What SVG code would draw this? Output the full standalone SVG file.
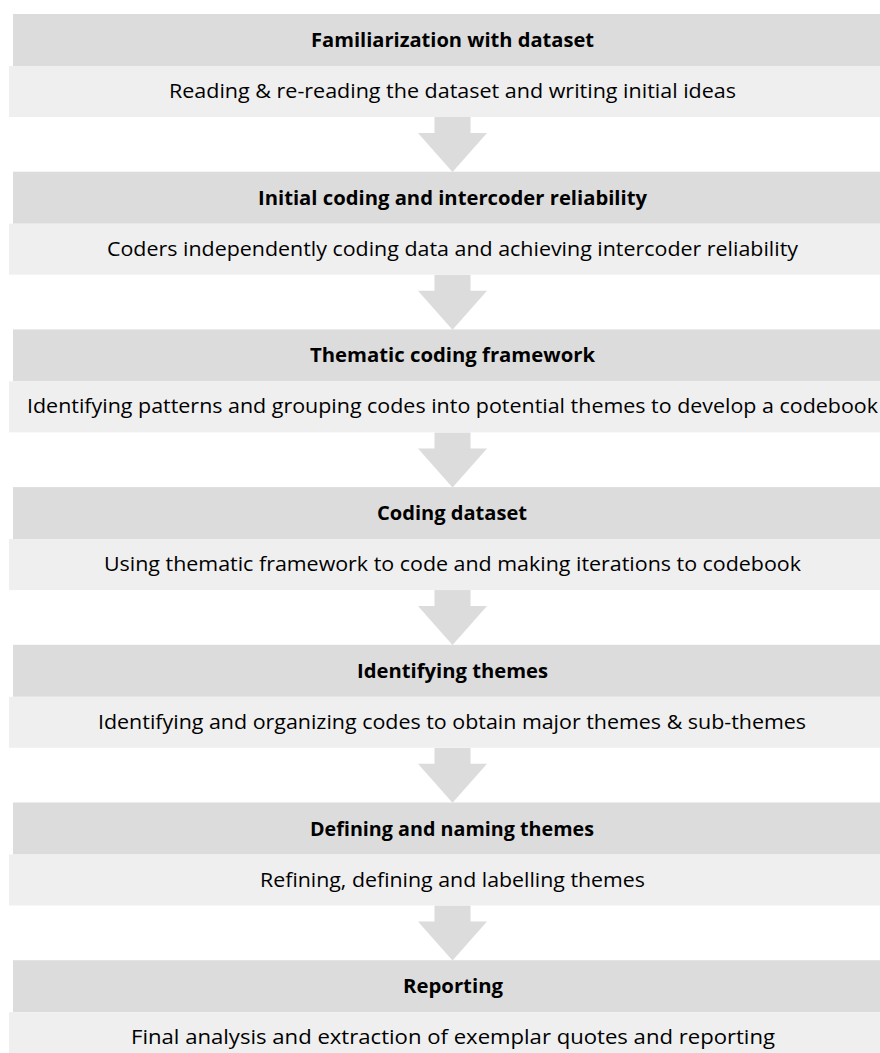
<svg xmlns="http://www.w3.org/2000/svg" width="880" height="1053" viewBox="0 0 880 1053">
  <style>
    .hd { fill: #dcdcdc; }
    .sb { fill: #efefef; }
    .ar { fill: #dcdcdc; }
    text { font-family: "Open Sans", "Liberation Sans", sans-serif; font-size: 19.5px; fill: #000; text-anchor: middle; }
    .t { font-weight: 700; }
  </style>
  <defs>
    <!-- block arrow from the bottom of one step to the top of the next -->
    <polygon id="down" class="ar" points="434.5,0 470.5,0 470.5,16 487,16 452.5,55 418,16 434.5,16"/>
  </defs>
  <rect width="880" height="1053" fill="#fff"/>

  <g id="connectors">
    <use href="#down" y="117"/>
    <use href="#down" y="274.7"/>
    <use href="#down" y="432.4"/>
    <use href="#down" y="590.1"/>
    <use href="#down" y="747.8"/>
    <use href="#down" y="905.5"/>
  </g>

  <g id="step1">
    <rect class="hd" x="13" y="14" width="880" height="52"/>
    <rect class="sb" x="9" y="66" width="880" height="51"/>
    <text class="t" x="452.5" y="47" textLength="283" lengthAdjust="spacingAndGlyphs">Familiarization with dataset</text>
    <text x="452.5" y="98" textLength="567" lengthAdjust="spacingAndGlyphs">Reading &amp; re-reading the dataset and writing initial ideas</text>
  </g>

  <g id="step2">
    <rect class="hd" x="13" y="171.7" width="880" height="52"/>
    <rect class="sb" x="9" y="223.7" width="880" height="51"/>
    <text class="t" x="452.5" y="204.7" textLength="389" lengthAdjust="spacingAndGlyphs">Initial coding and intercoder reliability</text>
    <text x="452.5" y="255.7" textLength="691" lengthAdjust="spacingAndGlyphs">Coders independently coding data and achieving intercoder reliability</text>
  </g>

  <g id="step3">
    <rect class="hd" x="13" y="329.4" width="880" height="52"/>
    <rect class="sb" x="9" y="381.4" width="880" height="51"/>
    <text class="t" x="452.5" y="362.4" textLength="285" lengthAdjust="spacingAndGlyphs">Thematic coding framework</text>
    <text x="452.5" y="413.4" textLength="851" lengthAdjust="spacingAndGlyphs">Identifying patterns and grouping codes into potential themes to develop a codebook</text>
  </g>

  <g id="step4">
    <rect class="hd" x="13" y="487.1" width="880" height="52"/>
    <rect class="sb" x="9" y="539.1" width="880" height="51"/>
    <text class="t" x="452" y="520.1" textLength="150" lengthAdjust="spacingAndGlyphs">Coding dataset</text>
    <text x="452.5" y="571.1" textLength="697" lengthAdjust="spacingAndGlyphs">Using thematic framework to code and making iterations to codebook</text>
  </g>

  <g id="step5">
    <rect class="hd" x="13" y="644.8" width="880" height="52"/>
    <rect class="sb" x="9" y="696.8" width="880" height="51"/>
    <text class="t" x="452.5" y="677.8" textLength="191" lengthAdjust="spacingAndGlyphs">Identifying themes</text>
    <text x="452" y="728.8" textLength="708" lengthAdjust="spacingAndGlyphs">Identifying and organizing codes to obtain major themes &amp; sub-themes</text>
  </g>

  <g id="step6">
    <rect class="hd" x="13" y="802.5" width="880" height="52"/>
    <rect class="sb" x="9" y="854.5" width="880" height="51"/>
    <text class="t" x="452" y="835.5" textLength="284" lengthAdjust="spacingAndGlyphs">Defining and naming themes</text>
    <text x="452.5" y="886.5" textLength="385" lengthAdjust="spacingAndGlyphs">Refining, defining and labelling themes</text>
  </g>

  <g id="step7">
    <rect class="hd" x="13" y="960.2" width="880" height="52"/>
    <rect class="sb" x="9" y="1012.2" width="880" height="51"/>
    <text class="t" x="453" y="993.2" textLength="100" lengthAdjust="spacingAndGlyphs">Reporting</text>
    <text x="453" y="1044.2" textLength="644" lengthAdjust="spacingAndGlyphs">Final analysis and extraction of exemplar quotes and reporting</text>
  </g>
</svg>
